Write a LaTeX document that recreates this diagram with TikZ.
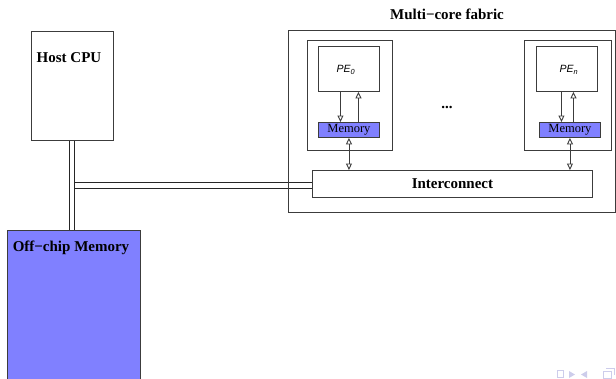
\documentclass[tikz,border=0pt]{standalone}
\usepackage{fontspec}
\setmainfont{Liberation Serif}
\setsansfont{Liberation Sans}
\usetikzlibrary{arrows.meta,backgrounds}
\definecolor{memblue}{RGB}{128,128,255}
\definecolor{edge}{RGB}{60,60,60}
\definecolor{navgray}{RGB}{205,205,235}
\tikzset{
  box/.style={draw=edge, line width=0.9pt, inner sep=0pt, anchor=north west},
  membox/.style={box, fill=memblue},
  title/.style={font=\fontsize{15}{17}\selectfont\bfseries, inner sep=0pt},
  memtext/.style={font=\fontsize{12.5}{14}\selectfont, inner sep=0pt},
  petext/.style={font=\fontsize{10.5}{12}\selectfont\sffamily\itshape, inner sep=0pt},
  arr/.style={draw=edge, line width=0.9pt, -{Triangle[open,length=6.5pt,width=6pt]}},
  biarr/.style={draw=edge, line width=0.9pt, {Triangle[open,length=6.5pt,width=6pt]}-{Triangle[open,length=6.5pt,width=6pt]}},
  bus/.style={draw=black!85, line width=0.9pt, double=white, double distance=4.6pt, line cap=butt},
}
\begin{document}
\begin{tikzpicture}[x=1pt, y=-1pt]
\useasboundingbox (0,0) rectangle (616,378);

% host side
\node[box, minimum width=82pt, minimum height=109pt] (cpu) at (31,31) {};
\node[title] (cpulabel) at (69,58) {Host CPU};
\node[membox, minimum width=133pt, minimum height=160pt] (offmem) at (7,230) {};
\node[title] (offlabel) at (71,248) {Off−chip Memory};

% multi-core fabric
\node[title] (fabriclabel) at (447,14) {Multi−core fabric};
\node[box, minimum width=327pt, minimum height=182pt] (fabric) at (288,30) {};

% first processing element
\node[box, minimum width=85pt, minimum height=110pt] (pe0tile) at (307,40) {};
\node[box, minimum width=61pt, minimum height=45pt] (pe0) at (318,46) {};
\node[petext] (pe0label) at (346,70) {PE\textsubscript{0}};
\node[membox, minimum width=61pt, minimum height=15pt] (mem0) at (318,122) {};
\node[memtext] (mem0label) at (mem0.center) {Memory};

% last processing element
\node[box, minimum width=87pt, minimum height=110pt] (pentile) at (524,40) {};
\node[box, minimum width=61pt, minimum height=45pt] (pen) at (536,46) {};
\node[petext] (penlabel) at (569,70) {PE\textsubscript{n}};
\node[membox, minimum width=61pt, minimum height=15pt] (memn) at (539,122) {};
\node[memtext] (memnlabel) at (memn.center) {Memory};

\node[title, anchor=base] (dots) at (447,108) {...};

% interconnect
\node[box, minimum width=280pt, minimum height=27pt] (icn) at (312,170) {};
\node[title] (icnlabel) at (icn.center) {Interconnect};

% local PE <-> memory links
\draw[arr] ([xshift=-8.5pt]pe0.south) -- ([xshift=-8.5pt]pe0.south |- mem0.north);
\draw[arr] ([xshift=9.5pt]mem0.north) -- ([xshift=9.5pt]mem0.north |- pe0.south);
\draw[biarr] (mem0.south) -- (mem0.south |- icn.north);
\draw[arr] ([xshift=-5.5pt]pen.south) -- ([xshift=-5.5pt]pen.south |- memn.north);
\draw[arr] ([xshift=6.5pt]pen.south |- memn.north) -- ([xshift=6.5pt]pen.south);
\draw[biarr] (memn.south) -- (memn.south |- icn.north);

% system bus
\coordinate (junction) at (72.7,185.5);
\begin{scope}[on background layer]
  \draw[bus] (junction) -- (junction -| icn.west);
  \draw[bus] ([xshift=-0.5pt]cpu.south) -- ([xshift=-0.5pt]cpu.south |- offmem.north);
\end{scope}

% navigation glyphs
\begin{scope}[navgray, line width=0.8pt]
  \draw (557,370) rectangle (563,377);
  \fill (569,371) -- (575,374.5) -- (569,378) -- cycle;
  \fill (587,371) -- (581,374.5) -- (587,378) -- cycle;
  \draw (603,371) rectangle (611,378);
  \draw (606,368) -- (614,368) -- (614,375);
\end{scope}
\end{tikzpicture}
\end{document}
